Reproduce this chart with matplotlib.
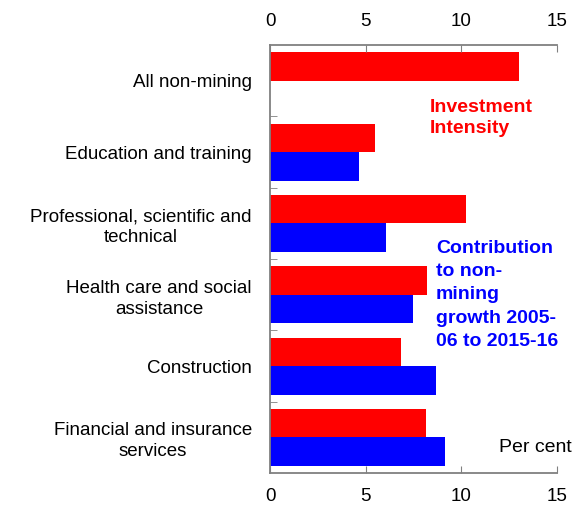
import numpy as np
import matplotlib.pyplot as plt

plt.rcParams['font.family'] = ['Liberation Sans', 'DejaVu Sans']

categories = ['All non-mining', 'Education and training',
              'Professional, scientific and\ntechnical',
              'Health care and social\nassistance', 'Construction',
              'Financial and insurance\nservices']
intensity = [13.0, 5.5, 10.25, 8.2, 6.85, 8.15]
contribution = [np.nan, 4.65, 6.05, 7.45, 8.65, 9.15]

fig = plt.figure(figsize=(5.82, 5.07), dpi=100)
ax = fig.add_axes([0.464, 0.067, 0.493, 0.844])

y = np.arange(len(categories))
ax.barh(y - 0.2, intensity, height=0.4, color='#ff0000')
ax.barh(y + 0.2, contribution, height=0.4, color='#0000ff')

ax.set_xlim(0, 15)
ax.set_ylim(len(categories) - 0.5, -0.5)
ax.set_xticks([0, 5, 10, 15])
ax.set_yticks(y)
ax.set_yticklabels(categories)
for lab in ax.get_yticklabels():
    lab.set_multialignment('center')
    lab.set_linespacing(1.3)
ax.set_yticks(np.arange(0.5, len(categories) - 1), minor=True)

ax.tick_params(axis='x', top=True, labeltop=True, direction='in', length=5,
               color='#808080', labelsize=13.5, pad=11)
ax.tick_params(axis='y', which='major', length=0, labelsize=13.5, pad=13)
ax.tick_params(axis='y', which='minor', direction='in', length=5, color='#808080')

for s in ['top', 'bottom', 'left']:
    ax.spines[s].set_color('#808080')
    ax.spines[s].set_linewidth(1.3)
ax.spines['right'].set_visible(False)

ax.text(8.36, 0.25, 'Investment\nIntensity', color='#ff0000', fontsize=14,
        fontweight='bold', va='top', ha='left', linespacing=1.35)
ax.text(8.68, 2.23, 'Contribution\nto non-\nmining\ngrowth 2005-\n06 to 2015-16',
        color='#0000ff', fontsize=14, fontweight='bold', va='top', ha='left',
        linespacing=1.48)
ax.text(11.95, 5.14, 'Per cent', fontsize=14, va='center', ha='left')

fig.savefig('out.png', dpi=100)
